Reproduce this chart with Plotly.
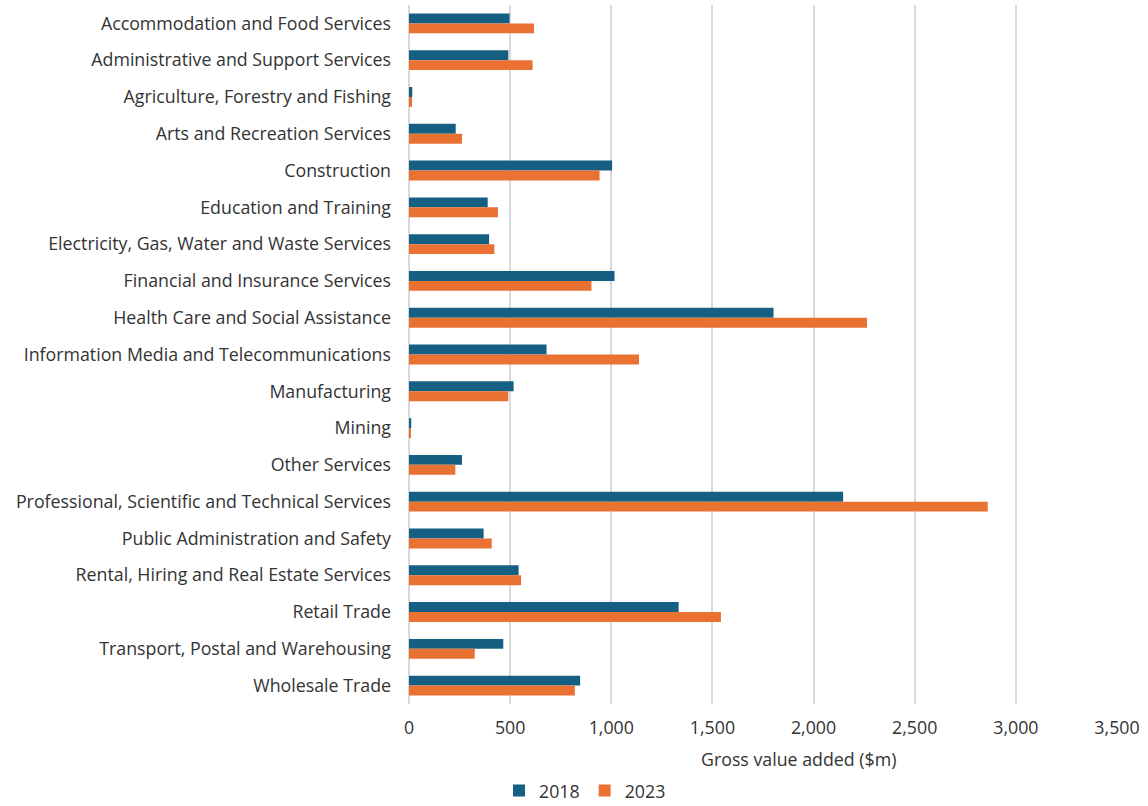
import plotly.graph_objects as go

# Industry categories, top to bottom
industries = [
    "Accommodation and Food Services",
    "Administrative and Support Services",
    "Agriculture, Forestry and Fishing",
    "Arts and Recreation Services",
    "Construction",
    "Education and Training",
    "Electricity, Gas, Water and Waste Services",
    "Financial and Insurance Services",
    "Health Care and Social Assistance",
    "Information Media and Telecommunications",
    "Manufacturing",
    "Mining",
    "Other Services",
    "Professional, Scientific and Technical Services",
    "Public Administration and Safety",
    "Rental, Hiring and Real Estate Services",
    "Retail Trade",
    "Transport, Postal and Warehousing",
    "Wholesale Trade",
]

# Gross value added ($m)
gva_2018 = [497, 491, 16, 231, 1004, 389, 396, 1016, 1802, 680,
            517, 11, 262, 2146, 369, 542, 1333, 466, 846]
gva_2023 = [618, 611, 15, 262, 942, 440, 422, 902, 2264, 1137,
            491, 9, 229, 2861, 409, 554, 1542, 325, 820]

x_ticks = [0, 500, 1000, 1500, 2000, 2500, 3000, 3500]
x_tick_labels = ["0", "500", "1,000", "1,500", "2,000", "2,500", "3,000", "3,500"]

FONT = "Open Sans"
SIZE = 17.8
TEXT = "#333333"

W, H = 1148, 806
L, R, T, B = 409, 31, 5, 102
plot_h = H - T - B

fig = go.Figure()
fig.add_trace(go.Bar(
    name="2018", y=industries, x=gva_2018, orientation="h",
    marker=dict(color="#156082", line=dict(width=0)),
))
fig.add_trace(go.Bar(
    name="2023", y=industries, x=gva_2023, orientation="h",
    marker=dict(color="#E97132", line=dict(width=0)),
))

fig.update_layout(
    width=W, height=H,
    margin=dict(l=L, r=R, t=T, b=B, autoexpand=False),
    paper_bgcolor="white", plot_bgcolor="white",
    barmode="group", bargap=0.46, bargroupgap=0,
    font=dict(family=FONT, size=SIZE, color=TEXT),
    showlegend=True,
    legend=dict(
        orientation="h", xref="container", x=585 / W, xanchor="center",
        yref="container", y=1 - 791 / H, yanchor="middle",
        font=dict(family=FONT, size=SIZE, color=TEXT),
        itemwidth=30, tracegroupgap=0,
    ),
    annotations=[dict(
        text="Gross value added ($m)",
        x=(798 - L) / (W - L - R), xref="paper",
        y=(H - B - 759) / plot_h, yref="paper",
        showarrow=False, xanchor="center", yanchor="middle",
        font=dict(family=FONT, size=SIZE, color=TEXT),
    )],
)

fig.update_xaxes(
    range=[0, 3500], tickvals=x_ticks, ticktext=x_tick_labels,
    showgrid=True, gridcolor="#D9D9D9", gridwidth=1.5,
    zeroline=True, zerolinecolor="#D9D9D9", zerolinewidth=1.5,
    showline=False, ticks="", ticklabelstandoff=11,
    tickfont=dict(family=FONT, size=SIZE, color=TEXT),
)
fig.update_yaxes(
    autorange="reversed", showgrid=False, showline=False, ticks="",
    ticklabelstandoff=17,
    tickfont=dict(family=FONT, size=SIZE, color=TEXT),
)

fig.write_html("out.html")
